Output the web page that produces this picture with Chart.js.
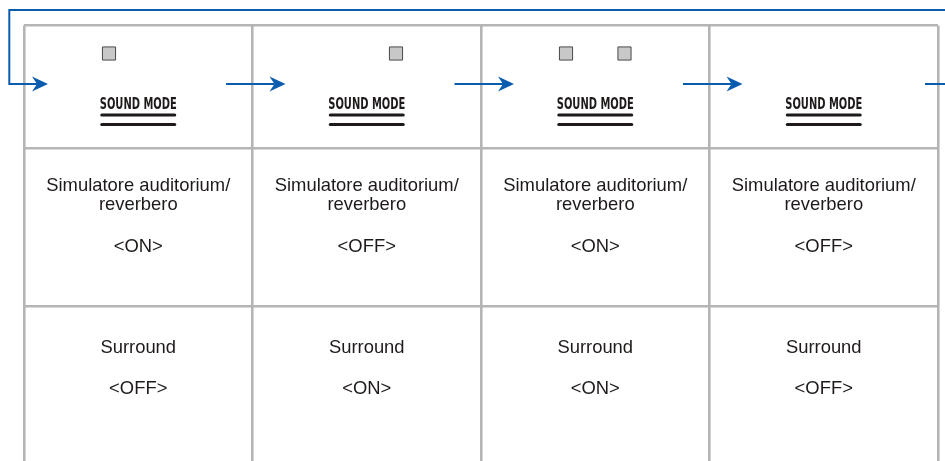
<!DOCTYPE html>
<html>
<head>
<meta charset="utf-8">
<script src="https://cdn.jsdelivr.net/npm/chart.js@4"></script>
<style>
  html, body { margin: 0; padding: 0; background: #fff; overflow: hidden; }
  #wrap { width: 945px; height: 461px; overflow: hidden; }
</style>
</head>
<body>
<div id="wrap"><canvas id="c" width="945" height="470"></canvas></div>
<script>
// Data
const steps = [1, 2, 3, 4];
const buttonLabel = 'SOUND MODE';
const rowLabels = [['Simulatore auditorium/', 'reverbero'], ['Surround']];
const reverbStates = ['ON', 'OFF', 'ON', 'OFF'];
const surroundStates = ['OFF', 'ON', 'ON', 'OFF'];

// Layout (px units on the y scale)
const HEADER_H = 122.5;
const ROW_H = 158.5;
const LED_DX = 0.128;   // column units
const LED_Y = 28;
const ARROW_Y = 58.5;
const BLUE = '#0a5cae';
const INK = '#1e1a19';

const cols = steps.map((s, i) => i);
const ledPoints = (states, dx) => states
  .map((s, i) => s === 'ON' ? { x: i + dx, y: LED_Y } : null)
  .filter(p => p);

const diagram = {
  id: 'diagram',
  afterDraw(chart) {
    const { ctx, chartArea: a, scales: { x, y } } = chart;
    ctx.save();

    // SOUND MODE button labels
    cols.forEach(i => {
      const cx = x.getPixelForValue(i);
      ctx.fillStyle = INK;
      ctx.font = 'bold 16px "Liberation Sans Narrow", "DejaVu Sans Condensed", sans-serif';
      ctx.textAlign = 'center';
      ctx.textBaseline = 'alphabetic';
      ctx.fillText(buttonLabel, cx, y.getPixelForValue(83), 77);
      ctx.strokeStyle = INK;
      ctx.lineWidth = 3;
      ctx.lineCap = 'round';
      [89.6, 98.9].forEach(v => {
        const py = y.getPixelForValue(v);
        ctx.beginPath();
        ctx.moveTo(cx - 36.5, py);
        ctx.lineTo(cx + 36.5, py);
        ctx.stroke();
      });
    });

    // row texts
    ctx.fillStyle = INK;
    ctx.font = '18.4px "Liberation Sans", Arial, sans-serif';
    ctx.textAlign = 'center';
    ctx.textBaseline = 'alphabetic';
    cols.forEach(i => {
      const cx = x.getPixelForValue(i);
      const r1 = HEADER_H;
      ctx.fillText(rowLabels[0][0], cx, y.getPixelForValue(r1 + 42.6));
      ctx.fillText(rowLabels[0][1], cx, y.getPixelForValue(r1 + 62));
      ctx.fillText('<' + reverbStates[i] + '>', cx, y.getPixelForValue(r1 + 104.3));
      const r2 = HEADER_H + ROW_H;
      ctx.fillText(rowLabels[1][0], cx, y.getPixelForValue(r2 + 46.8));
      ctx.fillText('<' + surroundStates[i] + '>', cx, y.getPixelForValue(r2 + 87.3));
    });

    // blue flow arrows
    const ay = y.getPixelForValue(ARROW_Y);
    ctx.strokeStyle = BLUE;
    ctx.fillStyle = BLUE;
    ctx.lineWidth = 2;
    ctx.lineCap = 'butt';
    const head = tip => {
      ctx.beginPath();
      ctx.moveTo(tip, ay);
      ctx.lineTo(tip - 16, ay - 7.5);
      ctx.lineTo(tip - 11, ay);
      ctx.lineTo(tip - 16, ay + 7.5);
      ctx.closePath();
      ctx.fill();
    };
    const topY = a.top - 15.5;
    const leftX = a.left - 14.7;
    const firstTip = a.left + 24;
    ctx.beginPath();
    ctx.moveTo(chart.width + 5, topY);
    ctx.lineTo(leftX, topY);
    ctx.lineTo(leftX, ay);
    ctx.lineTo(firstTip - 11, ay);
    ctx.stroke();
    head(firstTip);
    [0.5, 1.5, 2.5].forEach(b => {
      const bx = x.getPixelForValue(b);
      ctx.beginPath();
      ctx.moveTo(bx - 26.5, ay);
      ctx.lineTo(bx + 33 - 11, ay);
      ctx.stroke();
      head(bx + 33);
    });
    const lastB = x.getPixelForValue(3.5);
    ctx.beginPath();
    ctx.moveTo(lastB - 13, ay);
    ctx.lineTo(chart.width + 5, ay);
    ctx.stroke();

    ctx.restore();
  }
};

new Chart(document.getElementById('c'), {
  type: 'scatter',
  data: {
    datasets: [
      { label: 'Reverb LED', data: ledPoints(reverbStates, -LED_DX) },
      { label: 'Surround LED', data: ledPoints(surroundStates, LED_DX) }
    ].map(d => Object.assign(d, {
      pointStyle: 'rect',
      pointRadius: 9.3,
      pointHoverRadius: 9.3,
      backgroundColor: '#c8c8c8',
      borderColor: '#4a4a4a',
      borderWidth: 1
    }))
  },
  options: {
    responsive: false,
    animation: false,
    events: [],
    layout: { autoPadding: false, padding: { left: 24, right: 7, top: 25.5, bottom: 5 } },
    plugins: { legend: { display: false }, tooltip: { enabled: false } },
    scales: {
      x: {
        type: 'linear', min: -0.5, max: 3.5,
        afterBuildTicks: s => { s.ticks = [-0.5, 0.5, 1.5, 2.5, 3.5].map(v => ({ value: v })); },
        ticks: { display: false },
        grid: { color: '#b5b5b5', lineWidth: 2.6, drawTicks: false },
        border: { display: false }
      },
      y: {
        type: 'linear', reverse: true, min: 0, max: HEADER_H + 2 * ROW_H,
        afterBuildTicks: s => { s.ticks = [0, HEADER_H, HEADER_H + ROW_H, HEADER_H + 2 * ROW_H].map(v => ({ value: v })); },
        ticks: { display: false },
        grid: { color: '#b5b5b5', lineWidth: 2.6, drawTicks: false },
        border: { display: false }
      }
    }
  },
  plugins: [diagram]
});
</script>
</body>
</html>
